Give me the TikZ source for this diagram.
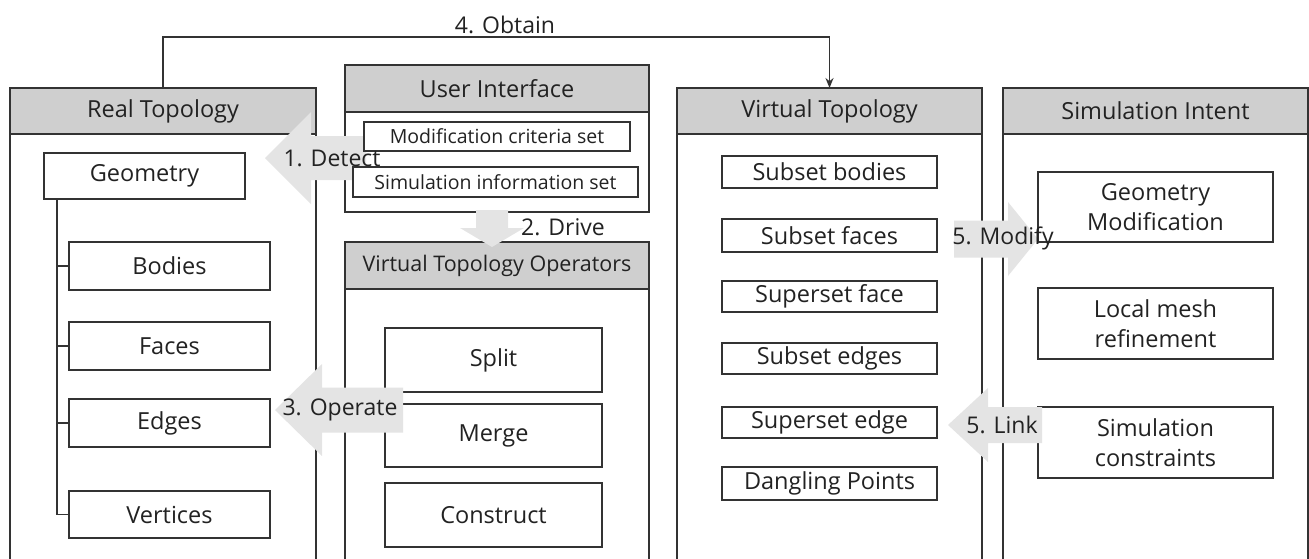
\documentclass[tikz,border=0pt]{standalone}
\usepackage{fontspec}
\setmainfont{Open Sans}
\usetikzlibrary{arrows.meta,calc}
\definecolor{ln}{HTML}{333333}
\definecolor{hd}{HTML}{CFCFCF}
\definecolor{blk}{HTML}{E4E4E4}
\definecolor{txt}{HTML}{222222}

% box from (x1,y1) to (x2,y2), y grows downwards
\newcommand{\bx}[7][]{%
  \node[box,#1,minimum width={#5-#3},minimum height={#6-#4}] (#2) at (#3,#4) {#7};}
% block arrow pointing left or right: tip x, tip y, head base x, tail x, head half, shaft half
\newcommand{\harrow}[6]{%
  \fill[blk] (#1,#2) -- (#3,#2-#5) -- (#3,#2-#6) -- (#4,#2-#6) -- (#4,#2+#6)
    -- (#3,#2+#6) -- (#3,#2+#5) -- cycle;}
% block arrow pointing down: tip x, tip y, head base y, tail y, head half, shaft half
\newcommand{\darrow}[6]{%
  \fill[blk] (#1,#2) -- (#1-#5,#3) -- (#1-#6,#3) -- (#1-#6,#4) -- (#1+#6,#4)
    -- (#1+#6,#3) -- (#1+#5,#3) -- cycle;}

\begin{document}
\begin{tikzpicture}[x=1pt,y=-1pt,
  every node/.style={inner sep=0pt,outer sep=0pt,text=txt},
  box/.style={draw=ln,line width=1.3pt,fill=white,anchor=north west,align=center,
    font=\fontsize{23.5}{30}\selectfont},
  head/.style={fill=hd},
  small/.style={font=\fontsize{19.5}{23}\selectfont},
  lbl/.style={font=\fontsize{23}{27}\selectfont},
  wire/.style={draw=ln,line width=1.3pt}]
\path[use as bounding box] (0,0) rectangle (1309,558);
\clip (0,0) rectangle (1309,558);

% panels (open towards the bottom edge)
\bx{rtb}{10}{134}{316}{575}{}
\bx[head]{rth}{10}{88}{316}{134}{Real Topology}
\bx{uib}{345}{112}{649}{212}{}
\bx[head]{uih}{345}{65}{649}{112}{User Interface}
\bx{vob}{345}{289}{649}{575}{}
\bx[head,font=\fontsize{21.5}{25}\selectfont]{voh}{345}{242}{649}{289}{Virtual Topology Operators}
\bx{vtb}{677}{134}{982}{575}{}
\bx[head]{vth}{677}{88}{982}{134}{Virtual Topology}
\bx{sib}{1003}{134}{1308}{575}{}
\bx[head]{sih}{1003}{88}{1308}{134}{Simulation Intent}

% 1. Detect (below the user interface entries)
\harrow{265}{158}{311}{366}{46}{22}

% user interface entries
\bx[small]{crit}{364}{122}{630}{151}{Modification criteria set}
\bx[small]{info}{353}{167}{638}{197}{Simulation information set}

% real topology tree
\bx{geo}{44}{153}{245}{199}{Geometry}
\bx{bod}{69}{242}{270}{290}{Bodies}
\bx{fac}{69}{322}{270}{370}{Faces}
\bx{edg}{69}{399}{270}{447}{Edges}
\bx{ver}{69}{491}{270}{538}{Vertices}
\coordinate (trunk) at ($(geo.south west)+(13,0)$);
\draw[wire] (trunk) |- (ver.west);
\foreach \n in {bod,fac,edg} \draw[wire] (trunk |- \n.west) -- (\n.west);

% operators
\bx{spl}{385}{328}{602}{392}{Split}
\bx{mrg}{385}{404}{602}{467}{Merge}
\bx{con}{385}{483}{602}{547}{Construct}

% virtual topology entities
\bx{sbo}{722}{156}{937}{188}{Subset bodies}
\bx{sfa}{722}{219}{937}{252}{Subset faces}
\bx{pfa}{722}{281}{937}{312}{Superset face}
\bx{sed}{722}{343}{937}{374}{Subset edges}
\bx{ped}{722}{407}{937}{438}{Superset edge}
\bx{dan}{722}{467}{937}{500}{Dangling Points}

% simulation intent entries
\bx{gmo}{1038}{172}{1273}{242}{Geometry\\Modification}
\bx{lmr}{1038}{288}{1273}{359}{Local mesh\\refinement}
\bx{sco}{1038}{407}{1273}{478}{Simulation\\constraints}

% block arrows drawn over the panels
\darrow{492}{247}{228}{210}{32}{16}
\harrow{275}{410}{322}{403}{46}{22.5}
\harrow{1038}{239}{1008}{954}{37}{18.5}
\harrow{948}{425}{988}{1042}{37}{18}

% 4. Obtain
\draw[wire,line width=1.6pt,-{Stealth[length=10pt,width=8pt]}] (rth.north) -- (rth.north |- 0,37) -| (vth.north);

% labels
\node[lbl] (obtain) at (505,25) {4. Obtain};
\node[lbl] (detect) at (332,158) {1. Detect};
\node[lbl] (drive) at (563,227) {2. Drive};
\node[lbl] (operate) at (340,410) {3. Operate};
\node[lbl] (modify) at (1003,238) {5. Modify};
\node[lbl] (link) at (1002,425) {5. Link};
\end{tikzpicture}
\end{document}
